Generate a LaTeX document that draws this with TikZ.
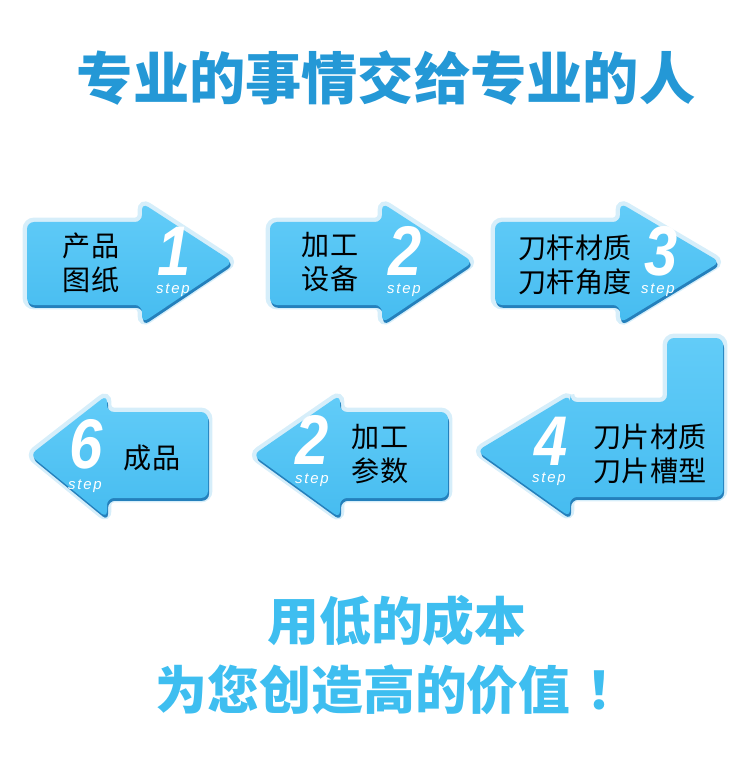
\documentclass[tikz,border=0pt]{standalone}
\usepackage{fontspec}
\setmainfont{Liberation Sans}
\newfontfamily\cjk{Noto Sans CJK SC}
\newfontfamily\stepfont{Liberation Sans}[LetterSpace=12]
\usetikzlibrary{positioning,shadows}
\definecolor{arrowblue}{RGB}{70,188,240}
\definecolor{arrowlight}{RGB}{98,204,248}
\definecolor{arrowdark}{RGB}{36,128,188}
\definecolor{arrowglow}{RGB}{214,238,250}
\definecolor{titleblue}{RGB}{36,152,214}
\definecolor{sloganblue}{RGB}{62,190,240}

% right-pointing arrow: body left, head base, tip
\newcommand\rarrow[3]{\path[arrowshape] (#1,222) -- (#2,222) -- (#2,203) -- (#3,262) -- (#2,323) -- (#2,305) -- (#1,305) -- cycle;}
% left-pointing arrow: tip, head base, body right
\newcommand\larrow[3]{\path[arrowshape] (#3,412) -- (#2,412) -- (#2,395) -- (#1,455) -- (#2,518) -- (#2,498) -- (#3,498) -- cycle;}

\begin{document}
\begin{tikzpicture}[x=0.02cm,y=-0.02cm,
    arrowshape/.style={rounded corners=4pt,top color=arrowlight,bottom color=arrowblue,
      preaction={draw=arrowglow,line width=5pt},
      general shadow={fill=arrowdark,shadow xshift=0.6pt,shadow yshift=-1.6pt}},
    boxtext/.style={font=\cjk\fontsize{16}{19.5}\selectfont,align=center,inner sep=0pt},
    digit/.style={font=\fontsize{40}{40}\selectfont\bfseries\itshape,text=white,inner sep=0pt,
      text height=28pt,text depth=0pt},
    steptext/.style={font=\stepfont\fontsize{8.5}{9}\selectfont\itshape,text=white,inner sep=0pt,
      text height=5pt,text depth=2pt}]
  \useasboundingbox (0,0) rectangle (750,763);

  % heading
  \node[font=\cjk\fontsize{32}{38}\selectfont\bfseries,text=titleblue] (title) at (386,78) {专业的事情交给专业的人};

  % upper row, left to right
  \rarrow{27}{142}{233}
  \rarrow{270}{382}{473}
  \rarrow{495}{620}{720}
  \node[boxtext] (draw1) at (91,263) {产品\\图纸};
  \node[digit] (n1) at (174,251) {\scalebox{0.85}[1]{1}};
  \node[steptext] (s1) at (173,291) {step};
  \node[boxtext] (machine) at (330,262) {加工\\设备};
  \node[digit] (n2) at (405,251) {\scalebox{0.85}[1]{2}};
  \node[steptext] (s2) at (404,291) {step};
  \node[boxtext] (holder) at (575,265) {刀杆材质\\刀杆角度};
  \node[digit] (n3) at (661,251) {\scalebox{0.85}[1]{3}};
  \node[steptext] (s3) at (658,291) {step};

  % lower row, right to left
  \path[arrowshape] (667,338) -- (723,338) -- (723,497) -- (570,497) -- (570,517) -- (477,451)
    -- (570,395) -- (570,402) -- (667,402) -- cycle;
  \larrow{253}{340}{448}
  \larrow{30}{107}{208}
  \node[digit] (n4) at (551,441) {\scalebox{0.85}[1]{4}};
  \node[steptext] (s4) at (549,480) {step};
  \node[boxtext] (insert) at (650,454) {刀片材质\\刀片槽型};
  \node[digit] (n5) at (312,440) {\scalebox{0.85}[1]{2}};
  \node[steptext] (s5) at (312,481) {step};
  \node[boxtext] (param) at (380,454) {加工\\参数};
  \node[digit] (n6) at (86,444) {\scalebox{0.85}[1]{6}};
  \node[steptext] (s6) at (85,487) {step};
  \node[boxtext] (product) at (152,458) {成品};

  % slogan
  \node[font=\cjk\fontsize{29.5}{39.5}\selectfont\bfseries,text=sloganblue,align=center] (slogan) at (397,655)
    {用低的成本\\为您创造高的价值\hspace{0.3em}！};
\end{tikzpicture}
\end{document}
